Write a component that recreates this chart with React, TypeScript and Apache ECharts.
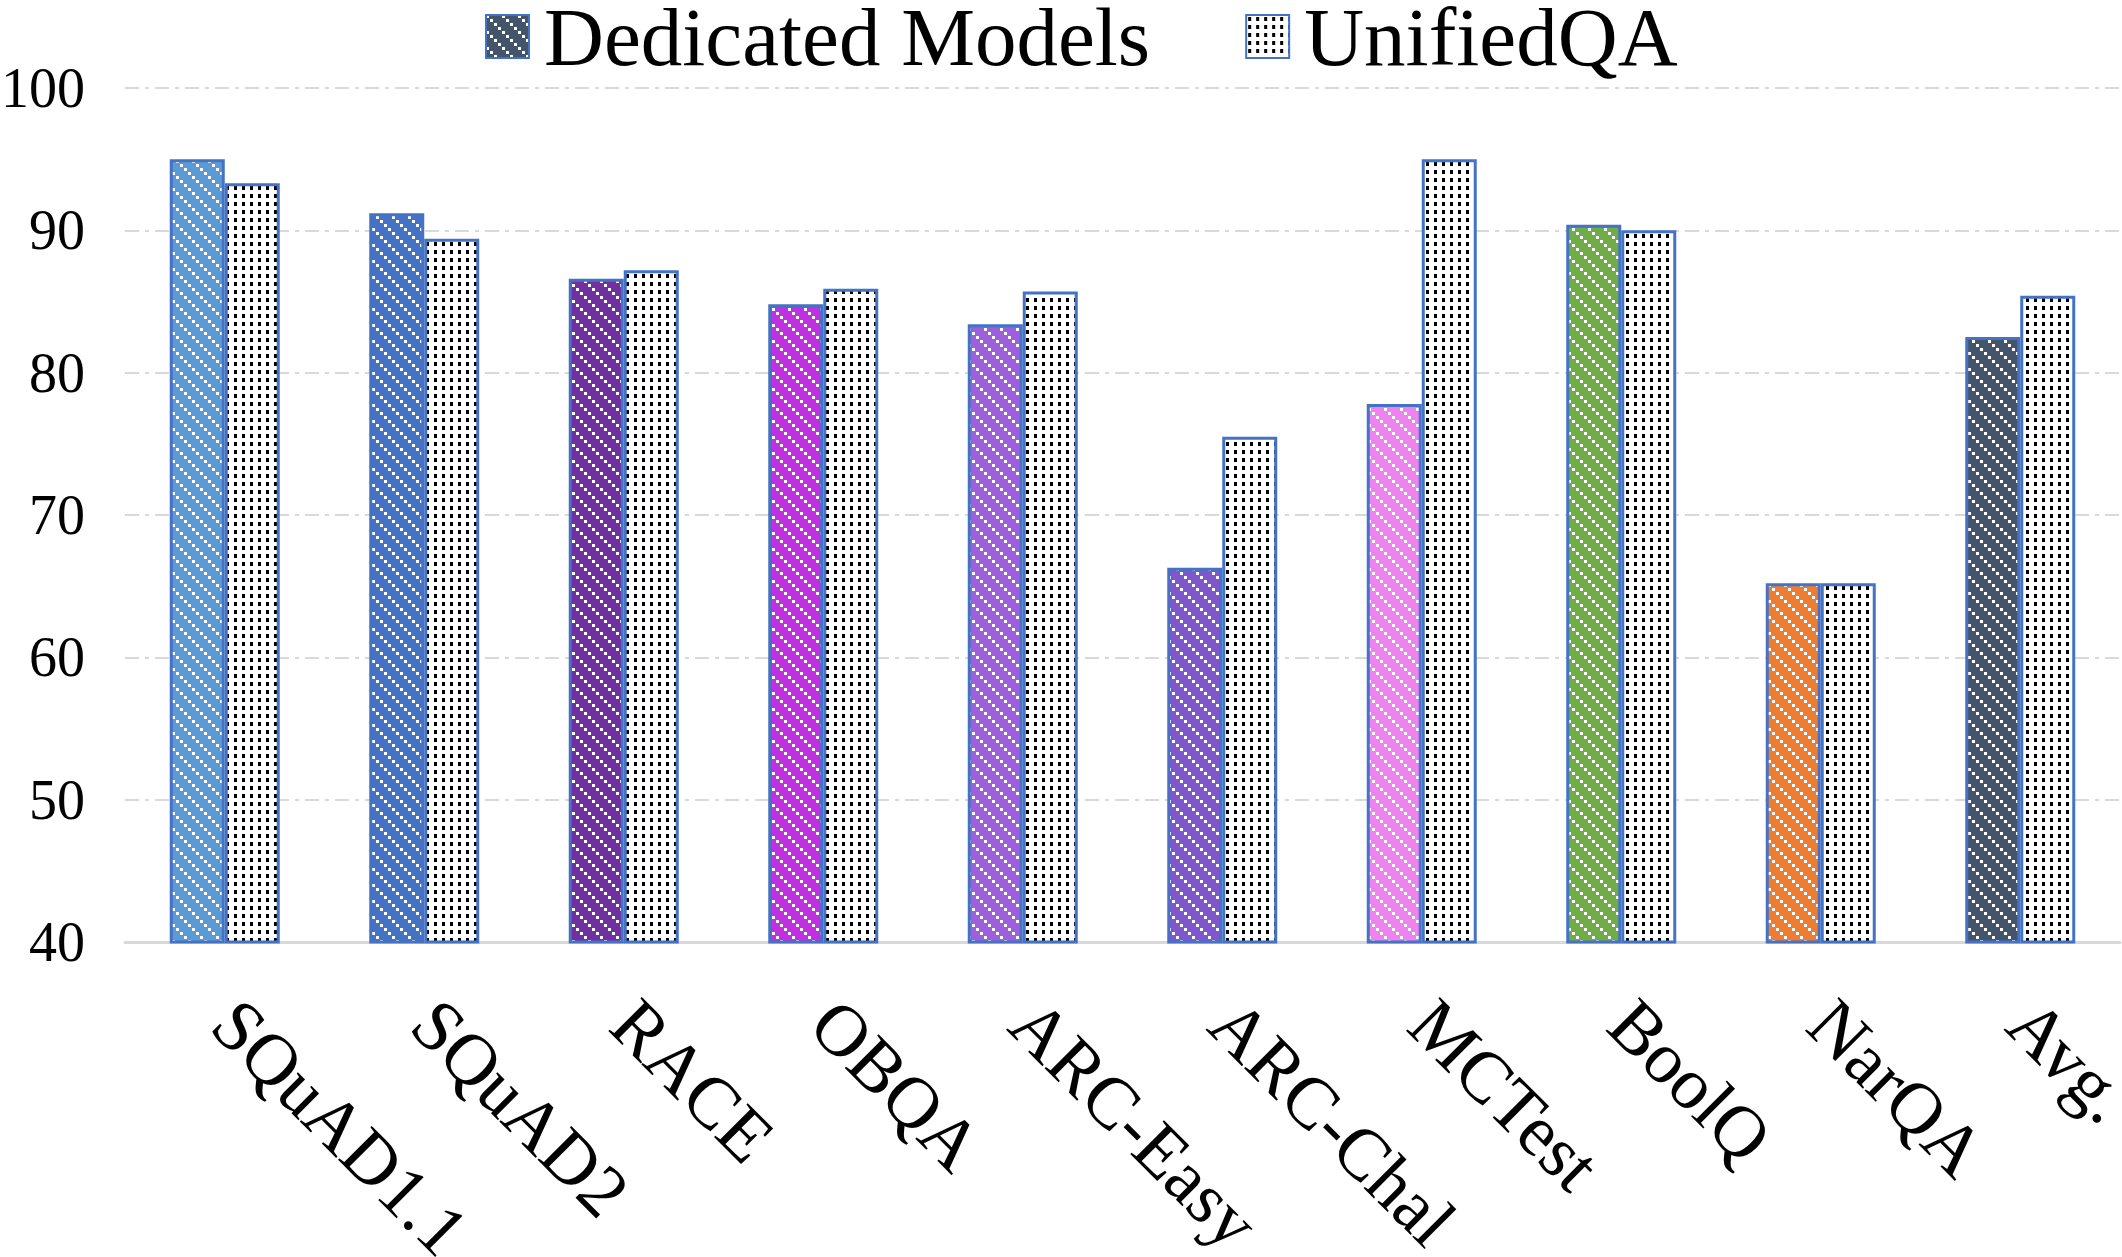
import React, { useEffect, useRef } from "react";
import * as echarts from "echarts";

// Benchmark names along the x axis
const categories = [
  "SQuAD1.1",
  "SQuAD2",
  "RACE",
  "OBQA",
  "ARC-Easy",
  "ARC-Chal",
  "MCTest",
  "BoolQ",
  "NarQA",
  "Avg.",
];

// Scores of the task-specific models
const dedicatedScores = [95.0, 91.2, 86.6, 84.8, 83.4, 66.3, 77.8, 90.4, 65.2, 82.5];

// Scores of the single UnifiedQA model
const unifiedScores = [93.3, 89.4, 87.2, 85.9, 85.7, 75.5, 95.0, 90.0, 65.2, 85.4];

// Fill colour of each dedicated-model bar
const dedicatedColors = [
  "#5B9BD5",
  "#4472C4",
  "#7030A0",
  "#C030E0",
  "#9E5FDD",
  "#7E57CC",
  "#EE82EE",
  "#70AD47",
  "#ED7D31",
  "#44546A",
];

const seriesNames = ["Dedicated Models", "UnifiedQA"];

const FONT = "'Liberation Serif', 'Times New Roman', serif";
const BORDER = "#4472C4";

// Coloured tile with white "\" stripes made of small squares
function stripeFill(color: string) {
  const size = 16;
  const c = document.createElement("canvas");
  c.width = size;
  c.height = size;
  const g = c.getContext("2d")!;
  g.fillStyle = color;
  g.fillRect(0, 0, size, size);
  g.fillStyle = "#ffffff";
  for (let i = 0; i < 4; i++) {
    g.fillRect(i * 4, i * 4, 3, 3);
  }
  return { image: c, repeat: "repeat", imageWidth: size, imageHeight: size } as any;
}

// White tile with a black dot grid
function dotFill() {
  const size = 8;
  const c = document.createElement("canvas");
  c.width = size;
  c.height = size;
  const g = c.getContext("2d")!;
  g.fillStyle = "#ffffff";
  g.fillRect(0, 0, size, size);
  g.fillStyle = "#000000";
  g.fillRect(2, 2, 3, 4);
  return { image: c, repeat: "repeat", imageWidth: size, imageHeight: size } as any;
}

export default function App() {
  const ref = useRef<HTMLDivElement>(null);

  useEffect(() => {
    if (!ref.current) return;
    const chart = echarts.init(ref.current, undefined, { renderer: "svg" });

    const dots = dotFill();

    chart.setOption({
      animation: false,
      backgroundColor: "#ffffff",
      legend: {
        data: seriesNames,
        left: 480,
        top: -10,
        itemWidth: 43,
        itemHeight: 43,
        itemGap: 95,
        icon: "rect",
        textStyle: {
          fontFamily: FONT,
          fontSize: 83,
          color: "#000000",
          padding: [0, 0, 44, 10],
        },
      },
      grid: {
        left: 125,
        right: 2,
        top: 88,
        bottom: 315,
        containLabel: false,
        outerBoundsMode: "none",
      },
      xAxis: {
        type: "category",
        data: categories,
        axisTick: { show: false },
        axisLine: { show: true, lineStyle: { color: "#D9D9D9", width: 3 } },
        axisLabel: {
          interval: 0,
          rotate: -45,
          margin: 70,
          fontFamily: FONT,
          fontSize: 73,
          color: "#000000",
        },
      },
      yAxis: {
        type: "value",
        min: 40,
        max: 100,
        interval: 10,
        axisLine: { show: false },
        axisTick: { show: false },
        axisLabel: {
          margin: 40,
          fontFamily: FONT,
          fontSize: 56,
          color: "#000000",
        },
        splitLine: {
          show: true,
          lineStyle: { color: "#D9D9D9", width: 2, type: [14, 6, 4, 6] },
        },
      },
      series: [
        {
          name: seriesNames[0],
          type: "bar",
          barWidth: 55,
          barGap: "0%",
          itemStyle: {
            color: stripeFill(dedicatedColors[dedicatedColors.length - 1]),
            borderColor: BORDER,
            borderWidth: 3,
          },
          data: dedicatedScores.map((v, i) => ({
            value: v,
            itemStyle: { color: stripeFill(dedicatedColors[i]) },
          })),
        },
        {
          name: seriesNames[1],
          type: "bar",
          barWidth: 55,
          barGap: "0%",
          itemStyle: {
            color: dots,
            borderColor: BORDER,
            borderWidth: 3,
          },
          data: unifiedScores,
        },
      ],
    });

    return () => chart.dispose();
  }, []);

  return (
    <div
      ref={ref}
      style={{ position: "fixed", left: 0, top: 0, width: 2122, height: 1257 }}
    />
  );
}
